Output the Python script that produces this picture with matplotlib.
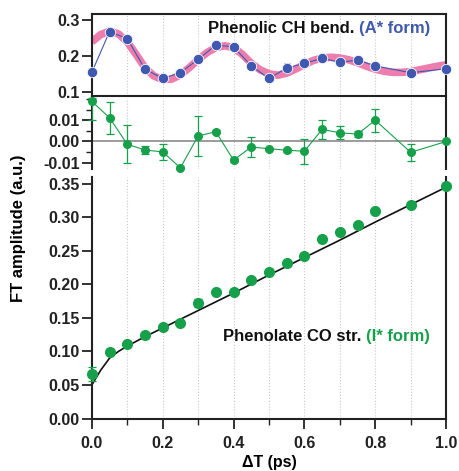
import numpy as np
import matplotlib.pyplot as plt
from matplotlib.ticker import MultipleLocator

plt.rcParams['font.family'] = ['Liberation Sans', 'DejaVu Sans']
plt.rcParams['font.weight'] = 'bold'

# ---- data ----
dt = [0.0, 0.05, 0.1, 0.15, 0.2, 0.25, 0.3, 0.35, 0.4, 0.45, 0.5,
      0.55, 0.6, 0.65, 0.7, 0.75, 0.8, 0.9, 1.0]

# phenolic CH bend (A* form)
ch_amp = [0.155, 0.268, 0.249, 0.164, 0.138, 0.154, 0.191, 0.231, 0.226, 0.173,
          0.138, 0.167, 0.180, 0.194, 0.183, 0.189, 0.173, 0.154, 0.165]
ch_err = [0.003, 0.004, 0.004, 0.006, 0.003, 0.004, 0.003, 0.003, 0.003, 0.006,
          0.003, 0.015, 0.003, 0.003, 0.003, 0.003, 0.003, 0.003, 0.003]

fit_t = [0.0, 0.025, 0.05, 0.075, 0.1, 0.125, 0.15, 0.175, 0.2, 0.225, 0.25,
         0.275, 0.3, 0.325, 0.35, 0.375, 0.4, 0.425, 0.45, 0.475, 0.5, 0.525,
         0.55, 0.575, 0.6, 0.625, 0.65, 0.675, 0.7, 0.725, 0.75, 0.775, 0.8,
         0.825, 0.85, 0.875, 0.9, 0.925, 0.95, 0.975, 1.0]
ch_fit = [0.240, 0.260, 0.270, 0.262, 0.240, 0.205, 0.168, 0.145, 0.135, 0.136, 0.148,
          0.168, 0.190, 0.210, 0.224, 0.229, 0.224, 0.205, 0.180, 0.162, 0.151, 0.147,
          0.153, 0.164, 0.177, 0.188, 0.195, 0.197, 0.195, 0.190, 0.182, 0.172, 0.164,
          0.158, 0.155, 0.155, 0.157, 0.162, 0.167, 0.172, 0.176]

# residual panel
res = [0.0189, 0.0112, -0.0013, -0.0040, -0.0049, -0.0124, 0.0026, 0.0046, -0.0088, -0.0026,
       -0.0034, -0.0041, -0.0046, 0.0057, 0.0041, 0.0035, 0.0100, -0.0051, 0.0]
res_lo = [0.009, 0.0075, 0.0090, 0.0019, 0.0037, 0.0007, 0.0096, 0.0008, 0.0008, 0.0048,
          0.0004, 0.0007, 0.0060, 0.0045, 0.0030, 0.0015, 0.0053, 0.0040, 0.0]
res_hi = [0.0015, 0.0075, 0.0090, 0.0019, 0.0037, 0.0007, 0.0096, 0.0008, 0.0008, 0.0048,
          0.0004, 0.0007, 0.0060, 0.0045, 0.0030, 0.0015, 0.0053, 0.0040, 0.0]

# phenolate CO str. (I* form)
co_amp = [0.066, 0.099, 0.111, 0.124, 0.137, 0.143, 0.172, 0.188, 0.188, 0.207,
          0.219, 0.232, 0.243, 0.267, 0.278, 0.289, 0.309, 0.318, 0.347]
co_err = [0.0105, 0.0045, 0.0045, 0.002, 0.002, 0.002, 0.0055, 0.002, 0.002, 0.003,
          0.002, 0.002, 0.003, 0.002, 0.002, 0.002, 0.003, 0.002, 0.002]
co_fit_t = [0.0, 0.025, 0.05, 0.075, 0.1, 0.15, 0.2, 0.3, 0.4, 0.5, 0.6, 0.7, 0.8, 0.9, 1.0]
co_fit = [0.050, 0.072, 0.090, 0.100, 0.108, 0.122, 0.135, 0.161, 0.187, 0.214,
          0.240, 0.266, 0.293, 0.319, 0.345]

blue = '#3f58b0'
pink = '#ec6fa3'
green = '#17a04a'
spine_c = '#222222'

fig = plt.figure(figsize=(4.59, 4.71), dpi=100)
L, W = 0.200, 0.772
ax1 = fig.add_axes([L, 0.796, W, 0.174])
ax2 = fig.add_axes([L, 0.641, W, 0.151])
ax3 = fig.add_axes([L, 0.110, W, 0.514])

for ax in (ax1, ax2, ax3):
    ax.set_xlim(0, 1.0)
    ax.set_xticks(np.arange(0, 1.01, 0.1))
    ax.grid(axis='x', color='#c8c8c8', ls=':', lw=0.8)
    ax.set_axisbelow(True)
    ax.tick_params(axis='y', direction='out', length=7, width=1.3, labelsize=11.5,
                   colors=spine_c, pad=1.5)
    ax.tick_params(axis='y', which='minor', direction='out', length=4, width=1.0, colors=spine_c)
    for s in ax.spines.values():
        s.set_color(spine_c)
        s.set_linewidth(1.5)

# top panel
ax1.plot(fit_t, ch_fit, color=pink, lw=5.5, alpha=0.9, solid_capstyle='butt', zorder=2)
ax1.errorbar(dt, ch_amp, yerr=ch_err, color=blue, lw=0.8, marker='o', ms=7.5,
             mfc=blue, mec='white', mew=0.6, capsize=2.5, elinewidth=0.8, zorder=3,
             clip_on=False)
ax1.set_ylim(0.089, 0.317)
ax1.set_yticks([0.1, 0.2, 0.3])
ax1.set_yticklabels(['0.1', '0.2', '0.3'], fontweight='bold')
ax1.tick_params(axis='x', length=0, labelbottom=False)
t1 = ax1.text(0.955, 0.83, '(A* form)', color=blue, fontsize=12, fontweight='bold',
              transform=ax1.transAxes, ha='right', va='center')
ax1.annotate('Phenolic CH bend. ', xy=(0, 0.5), xycoords=t1, ha='right', va='center',
             fontsize=12, fontweight='bold', color='#111111')

# residual panel
ax2.axhline(0, color='#8a8a8a', lw=1.2, zorder=1)
ax2.errorbar(dt, res, yerr=[res_lo, res_hi], color=green, lw=0.8, marker='o', ms=5.5,
             mfc=green, mec=green, capsize=3, elinewidth=0.9, capthick=0.9, zorder=3,
             clip_on=False)
ax2.set_ylim(-0.013, 0.0205)
ax2.set_yticks([-0.01, 0.0, 0.01])
ax2.set_yticklabels(['-0.01', '0.00', '0.01'], fontweight='bold')
ax2.yaxis.set_minor_locator(MultipleLocator(0.005))
ax2.spines['top'].set_visible(False)
ax2.spines['bottom'].set_visible(False)
ax2.tick_params(axis='x', length=0, labelbottom=False)

# bottom panel
ax3.plot(co_fit_t, co_fit, color='#111111', lw=1.2, zorder=2)
ax3.errorbar(dt, co_amp, yerr=co_err, color=green, ls='none', marker='o', ms=7,
             mfc=green, mec=green, capsize=3, elinewidth=0.9, capthick=0.9, zorder=3,
             clip_on=False)
ax3.set_ylim(-0.001, 0.36)
ax3.set_yticks(np.arange(0, 0.351, 0.05))
ax3.set_yticklabels(['%.2f' % v for v in np.arange(0, 0.351, 0.05)], fontweight='bold')
ax3.spines['top'].set_visible(False)
ax3.set_xticks(np.arange(0, 1.01, 0.2))
ax3.set_xticks(np.arange(0.1, 1.0, 0.2), minor=True)
ax3.set_xticklabels(['0.0', '0.2', '0.4', '0.6', '0.8', '1.0'], fontweight='bold')
ax3.grid(axis='x', which='both', color='#c8c8c8', ls=':', lw=0.8)
ax3.tick_params(axis='x', which='major', direction='out', length=7, width=1.3,
                labelsize=11.5, colors=spine_c, pad=5)
ax3.tick_params(axis='x', which='minor', direction='out', length=4.5, width=1.0, colors=spine_c)
ax3.set_xlabel('ΔT (ps)', fontsize=11.5, fontweight='bold', labelpad=3)
t2 = ax3.text(0.955, 0.343, '(I* form)', color=green, fontsize=12, fontweight='bold',
              transform=ax3.transAxes, ha='right', va='center')
ax3.annotate('Phenolate CO str. ', xy=(0, 0.5), xycoords=t2, ha='right', va='center',
             fontsize=12, fontweight='bold', color='#111111')

fig.text(0.041, 0.516, 'FT amplitude (a.u.)', rotation=90, ha='center', va='center',
         fontsize=12, fontweight='bold')

fig.savefig('out.png', dpi=100)
